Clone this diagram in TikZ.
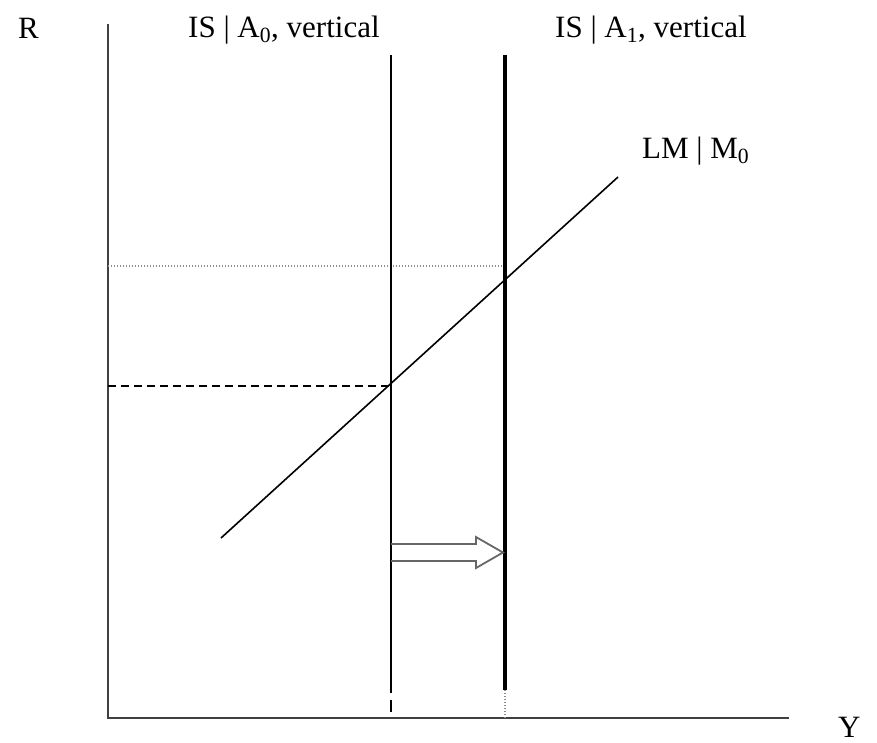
\documentclass[tikz,border=0pt]{standalone}
\usepackage{fontspec}
\setmainfont{Liberation Serif}
\begin{document}
\begin{tikzpicture}[x=1pt,y=-1pt,
  lab/.style={anchor=base west,inner sep=0pt,font=\fontsize{31}{35}\selectfont},
  axis/.style={line width=1.5pt,black!75},
  curve/.style={line width=1.6pt,black},
  thick curve/.style={line width=4pt,black},
  guide dash/.style={line width=1.5pt,dash pattern=on 8pt off 5pt},
  guide dot/.style={line width=1.3pt,black!45,dash pattern=on 1.2pt off 1.8pt},
  shift arrow/.style={line width=1.8pt,black!60,line join=miter}]
\useasboundingbox (0,0) rectangle (877,742);
% coordinates
\coordinate (O) at (108,718);
\coordinate (Ytop) at (108,24);
\coordinate (Xend) at (789,718);
\coordinate (IS0top) at (391,55);
\coordinate (IS0low) at (391,693);
\coordinate (IS0dashA) at (391,700);
\coordinate (IS0dashB) at (391,712);
\coordinate (IS1top) at (505,55);
\coordinate (IS1low) at (505,690);
\coordinate (IS1bot) at (505,718);
\coordinate (LMa) at (221,538);
\coordinate (LMb) at (618,177);
\coordinate (E0) at (391,386);
\coordinate (R0) at (108,386);
\coordinate (D1) at (505,266);
\coordinate (R1) at (108,266);
% axes
\draw[axis] (Ytop) -- (O) -- (Xend);
% guides
\draw[guide dot] (R1) -- (D1);
\draw[guide dash] (R0) -- (E0);
% IS curves
\draw[curve] (IS0top) -- (IS0low);
\draw[curve] (IS0dashA) -- (IS0dashB);
\draw[thick curve] (IS1top) -- (IS1low);
\draw[guide dot] (IS1low) -- (IS1bot);
% LM
\draw[curve] (LMa) -- (LMb);
% shift arrow
\draw[shift arrow] (391,544) -- (476,544) -- (476,537) -- (503,552.5) -- (476,568) -- (476,561) -- (391,561);
% labels
\node[lab] (Rlab) at (18,38) {R};
\node[lab] (IS0lab) at (188,37) {IS | A\textsubscript{0}, vertical};
\node[lab] (IS1lab) at (555,37) {IS | A\textsubscript{1}, vertical};
\node[lab] (LMlab) at (642,158) {LM | M\textsubscript{0}};
\node[lab] (Ylab) at (838,737) {Y};
\end{tikzpicture}
\end{document}
